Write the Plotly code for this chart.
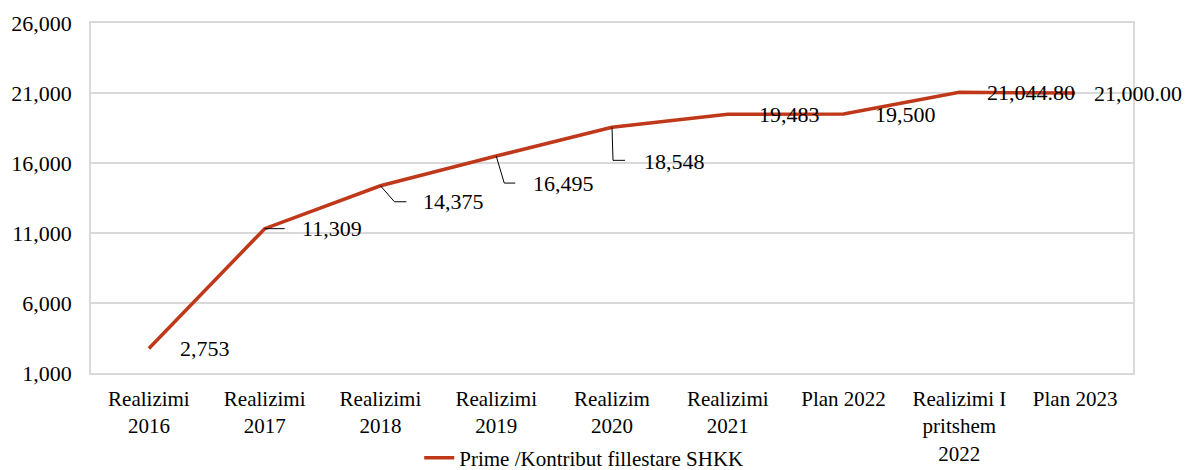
import plotly.graph_objects as go

# categories and values
kategorite = ["Realizimi<br>2016", "Realizimi<br>2017", "Realizimi<br>2018", "Realizimi<br>2019",
              "Realizim<br>2020", "Realizimi<br>2021", "Plan 2022", "Realizimi I<br>pritshem<br>2022",
              "Plan 2023"]
vlerat = [2753, 11309, 14375, 16495, 18548, 19483, 19500, 21044.80, 21000.00]
decimale = [0, 0, 0, 0, 0, 0, 0, 2, 2]
y_ticks = [1000, 6000, 11000, 16000, 21000, 26000]
emri_serise = "Prime /Kontribut fillestare SHKK"

# label offsets in pixels (x to the right, y up) and leader line paths
lbl_dx = [29, 35, 41, 35, 30, 29, 29, 26, 17]
lbl_dy = [0, 0, -16, -27, -34, 0, 0, 0, 0]
leaders = [None, "M0,0 L20,0", "M0,0 L14,-16 L26,-16", "M0,0 L8,-27 L19,-27",
           "M0,0 L1,-33 L13,-33", None, None, None, None]

FONT = "Liberation Serif"
NGJYRA = "#C0381A"
GRID = "#d9d9d9"

fig = go.Figure()
fig.add_trace(go.Scatter(
    x=kategorite, y=vlerat, mode="lines", name=emri_serise,
    line=dict(color=NGJYRA, width=3.5)
))

for i, (k, v) in enumerate(zip(kategorite, vlerat)):
    fig.add_annotation(
        x=k, y=v, xref="x", yref="y",
        text=f"{v:,.{decimale[i]}f}", showarrow=False,
        xanchor="left", yanchor="middle",
        xshift=lbl_dx[i], yshift=lbl_dy[i],
        font=dict(family=FONT, size=22, color="#000000")
    )
    if leaders[i]:
        fig.add_shape(
            type="path", xref="x", yref="y",
            xsizemode="pixel", ysizemode="pixel",
            xanchor=k, yanchor=v, path=leaders[i],
            line=dict(color="#000000", width=1)
        )

# page body has an 8px margin, so the figure is a bit smaller than the window
fig.update_layout(
    width=1183, height=462,
    margin=dict(l=83, r=58, t=15, b=97),
    paper_bgcolor="white", plot_bgcolor="white",
    font=dict(family=FONT, size=21, color="#000000"),
    showlegend=True,
    legend=dict(orientation="h", x=0.315, xanchor="left",
                yref="container", y=0.026, yanchor="middle",
                bgcolor="rgba(0,0,0,0)",
                font=dict(family=FONT, size=21)),
)
fig.update_xaxes(
    range=[-0.5, 8.5], automargin=False,
    showgrid=False, showline=True, linecolor=GRID, linewidth=1.5, mirror=True,
    ticks="", ticklabelstandoff=6, tickangle=0
)
fig.update_yaxes(
    range=[1000, 26000], tickvals=y_ticks, tickformat=",d", automargin=False,
    tickfont=dict(size=22),
    showgrid=True, gridcolor=GRID, gridwidth=1.5,
    showline=True, linecolor=GRID, linewidth=1.5, mirror=True,
    zeroline=False, ticks="", ticklabelstandoff=13
)

fig.write_html("out.html")
